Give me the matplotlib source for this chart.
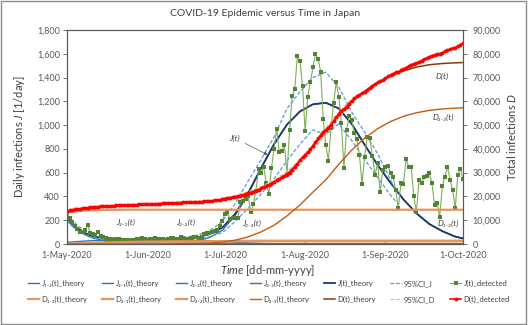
import numpy as np
import pandas as pd
import matplotlib
matplotlib.use("Agg")
import matplotlib.pyplot as plt
from matplotlib.ticker import FuncFormatter
from matplotlib.patches import Rectangle

plt.rcParams['font.family'] = ['Lato', 'DejaVu Sans']
plt.rcParams['mathtext.fontset'] = 'custom'
plt.rcParams['mathtext.rm'] = 'Lato'
plt.rcParams['mathtext.it'] = 'Lato:italic'

# COVID-19 in Japan, 1 May .. 1 Oct 2020
start = pd.Timestamp('2020-05-01')

# daily detected infections J [1/day]
J_detected = [
    272, 215, 185, 150, 125, 105, 100, 120, 160, 90, 80, 75, 105, 70, 55, 50, 45, 40, 35, 38,
    40, 30, 30, 35, 28, 32, 35, 40, 45, 50, 40,
    35, 40, 45, 50, 42, 45, 38, 35, 45, 50, 48, 40, 45, 55, 50, 45, 42, 50, 60, 55,
    50, 55, 80, 90, 95, 105, 110, 120, 150, 190,
    255, 265, 210, 215, 220, 215, 350, 365, 375, 400, 265, 335, 450, 630, 600, 650, 510, 420, 640, 800,
    970, 770, 780, 835, 590, 960, 1245, 1300, 1585, 1540, 1330,
    950, 1240, 1360, 1485, 1600, 1560, 1450, 1050, 835, 700, 975, 1185, 1360, 1240, 1020, 640, 960, 1075, 1045, 935,
    880, 745, 505, 735, 900, 890, 740, 580, 680, 435, 625,
    650, 655, 600, 560, 455, 300, 510, 505, 715, 650, 650, 400, 265, 540, 510, 565, 570, 595, 510, 330,
    345, 230, 485, 565, 650, 540, 455, 300, 580, 635, 545,
]

# total detected infections D
D_detected = [
    13900, 14160, 14380, 14570, 14730, 14870, 15000, 15130, 15280, 15410, 15520, 15620, 15720, 15810, 15890, 15960,
    16025, 16085, 16140, 16195, 16250, 16300, 16345, 16390, 16435, 16480, 16525, 16570, 16620, 16670, 16720,
    16770, 16820, 16870, 16920, 16970, 17020, 17070, 17120, 17170, 17220, 17270, 17320, 17370, 17420, 17470,
    17520, 17570, 17620, 17670, 17720, 17775, 17835, 17915, 18005, 18105, 18215, 18335, 18465, 18610, 18800,
    19030, 19270, 19460, 19655, 19855, 20050, 20365, 20695, 21035, 21395, 21635, 21935, 22340, 22905, 23420,
    23975, 24410, 24770, 25320, 26005, 26795, 27420, 28055, 28735, 29215, 29995, 31005, 32230, 33725, 35180, 36435,
    37330, 38500, 39830, 41285, 42855, 44385, 45805, 47095, 48120, 48980, 50180, 51635, 53305, 54755, 55950,
    56700, 57825, 59085, 60305, 61225, 62090, 62825, 63320, 64045, 64930, 65805, 66605, 67230, 67965, 68435, 69110,
    69810, 70485, 71105, 71680, 72150, 72460, 72985, 73505, 74195, 74820, 75445, 75830, 76085, 76605, 77095,
    77640, 78190, 78765, 79255, 79575, 79905, 80095, 80495, 80960, 81495, 81940, 82315, 82620, 83210, 83855, 84410,
]

# model curves, sampled at days since 1 May
th_day = [0, 2, 4, 7, 10, 15, 20, 25, 30, 35, 40, 45, 50, 55, 60, 65, 70, 75, 80, 85,
          90, 95, 100, 105, 110, 115, 120, 125, 130, 135, 140, 145, 150, 153]
J12_th = [200, 155, 118, 78, 50, 25, 12, 6, 3, 1] + [0] * 24
J21_th = [15, 17, 20, 25, 28, 28, 24, 18, 12, 7, 4, 2, 1] + [0] * 21
J22_th = [0, 0, 0, 0, 0, 1, 2, 5, 10, 17, 24, 28, 30, 28, 22, 15, 9, 5, 2, 1] + [0] * 14
J23_th = [2, 2, 2, 3, 3, 4, 5, 6, 8, 9, 10, 13, 24, 54, 116, 240, 421, 635, 838, 1004,
          1115, 1175, 1188, 1140, 1010, 835, 665, 515, 375, 258, 168, 108, 62, 47]
J_th = [222, 175, 135, 92, 65, 46, 38, 34, 33, 34, 36, 42, 55, 82, 138, 255, 430, 640, 840, 1005,
        1115, 1175, 1188, 1140, 1010, 835, 665, 515, 375, 258, 168, 108, 62, 47]

D12_th = [13200, 13550, 13800, 14050, 14200, 14320, 14380] + [14400] * 27
D21_th = [130, 170, 220, 310, 420, 600, 770, 900, 990, 1050, 1090, 1110, 1125] + [1130] * 21
D22_th = [0, 0, 0, 6, 12, 25, 50, 100, 180, 320, 490, 680, 880, 1050, 1180, 1280, 1340, 1375, 1395] + [1400] * 15
D23_th = [0, 0, 0, 0, 0, 0, 0, 5, 10, 20, 60, 120, 230, 400, 800, 1600, 3000, 5100, 7900, 11800,
          16400, 21800, 27000, 33500, 39500, 44500, 48500, 51500, 53700, 55200, 56200, 56800, 57150, 57300]
D_th = [13500, 13900, 14250, 14700, 15050, 15600, 16000, 16300, 16550, 16800, 17050, 17300, 17600, 18000,
        18700, 19800, 21300, 23300, 26000, 29300, 35000, 41000, 47600, 54200, 59800, 64200, 67800, 70600,
        72800, 74400, 75400, 75900, 76200, 76300]

# 95% confidence bands
ci_day = [0, 2, 4, 7, 10, 15, 20, 25, 30, 35, 40, 45, 50, 55, 60, 65, 70, 75, 80, 85,
          90, 95, 100, 105, 110, 115, 120, 125, 127]
ciJ_hi = [250, 200, 158, 110, 80, 58, 48, 44, 43, 44, 47, 55, 72, 110, 190, 340, 530, 710, 900, 1140,
          1280, 1400, 1445, 1320, 1110, 940, 760, 540, 450]
ciJ_lo = [195, 150, 112, 75, 52, 36, 30, 27, 26, 27, 28, 32, 40, 60, 95, 190, 300, 420, 550, 700,
          840, 960, 920, 1010, 870, 710, 560, 410, 360]
ciD_day = [60, 65, 70, 75, 80, 85, 90, 95, 100, 105, 110]
ciD_hi = [19300, 20400, 22000, 24100, 26800, 30400, 35500, 41800, 48700, 55500, 61000]
ciD_lo = [18600, 19500, 20900, 22800, 25300, 28500, 33600, 39600, 46500, 53400, 59200]


def to_dates(days):
    return start + pd.to_timedelta(np.asarray(days), unit='D')


t_obs = to_dates(np.arange(len(J_detected)))
t_th = to_dates(th_day)
t_ci = to_dates(ci_day)
t_ciD = to_dates(ciD_day)

c_jc = '#2E75B6'
c_j = '#1F3864'
c_cij = '#5B9BD5'
c_dc = '#E8955A'
c_d23 = '#C55A11'
c_d = '#843C0C'
c_cid = '#F4B183'
txt = '#404040'
tick_c = '#595959'

fig = plt.figure(figsize=(5.28, 3.25), dpi=100)
ax = fig.add_axes([67 / 528, 81 / 325, 396 / 528, 214 / 325])
ax2 = ax.twinx()

# primary axis: daily infections
h_j12, = ax.plot(t_th, J12_th, color=c_jc, lw=1.0)
h_j21, = ax.plot(t_th, J21_th, color=c_jc, lw=1.0)
h_j22, = ax.plot(t_th, J22_th, color=c_jc, lw=1.0)
h_j23, = ax.plot(t_th, J23_th, color=c_jc, lw=1.0)
h_j, = ax.plot(t_th, J_th, color=c_j, lw=1.3)
h_cij, = ax.plot(t_ci, ciJ_hi, color=c_cij, lw=0.9, ls=(0, (3, 1.5)))
ax.plot(t_ci, ciJ_lo, color=c_cij, lw=0.9, ls=(0, (3, 1.5)))
h_jdet, = ax.plot(t_obs, J_detected, color='#7FAF5A', lw=0.8, marker='s', ms=2.6,
                  mfc='#548235', mec='#548235', mew=0)

# secondary axis: total infections
h_d12, = ax2.plot(t_th, D12_th, color=c_dc, lw=1.6)
h_d21, = ax2.plot(t_th, D21_th, color=c_dc, lw=1.6)
h_d22, = ax2.plot(t_th, D22_th, color=c_dc, lw=1.6)
h_d23, = ax2.plot(t_th, D23_th, color=c_d23, lw=1.0)
h_d, = ax2.plot(t_th, D_th, color=c_d, lw=1.1)
h_cid, = ax2.plot(t_ciD, ciD_hi, color=c_cid, lw=0.9, ls=(0, (3, 1.5)))
ax2.plot(t_ciD, ciD_lo, color=c_cid, lw=0.9, ls=(0, (3, 1.5)))
h_ddet, = ax2.plot(t_obs, D_detected, color='#FF0000', lw=1.2, marker='o', ms=2.8, mew=0)

ax.set_xlim(start, pd.Timestamp('2020-10-01'))
ax.set_ylim(0, 1800)
ax2.set_ylim(0, 90000)
ax.set_yticks(np.arange(0, 1801, 200))
ax2.set_yticks(np.arange(0, 90001, 10000))
ax.yaxis.set_major_formatter(FuncFormatter(lambda v, p: f'{v:,.0f}'))
ax2.yaxis.set_major_formatter(FuncFormatter(lambda v, p: f'{v:,.0f}'))

months = pd.date_range('2020-05-01', '2020-10-01', freq='MS')
ax.set_xticks(months)
ax.set_xticklabels([f"{m.day}-{m.strftime('%b-%Y')}" for m in months])

ax.tick_params(axis='y', direction='out', length=3, width=0.6, color=tick_c,
               labelcolor=tick_c, labelsize=6.5, pad=2)
ax.tick_params(axis='x', direction='in', length=3, width=0.6, color=tick_c,
               labelcolor=tick_c, labelsize=6.5, pad=5)
ax2.tick_params(axis='y', direction='out', length=3, width=0.6, color=tick_c,
                labelcolor=tick_c, labelsize=6.5, pad=4)
for a in (ax, ax2):
    for s in a.spines.values():
        s.set_color(tick_c)
        s.set_linewidth(0.8)

# curve labels
lab = dict(fontsize=6, color=txt, style='italic', ha='center', va='center')
ax.annotate('J(t)', xy=(0.513, 0.411), xycoords='axes fraction', xytext=(0.423, 0.495),
            textcoords='axes fraction', arrowprops=dict(arrowstyle='-|>', color='#595959',
                                                        lw=0.5, mutation_scale=5), **lab)
ax.text(0.149, 0.099, 'J₂₋₁(t)', transform=ax.transAxes, **lab)
ax.text(0.300, 0.099, 'J₂₋₂(t)', transform=ax.transAxes, **lab)
ax.text(0.465, 0.097, 'J₂₋₃(t)', transform=ax.transAxes, **lab)
ax.text(0.947, 0.782, 'D(t)', transform=ax.transAxes, **lab)
ax.text(0.949, 0.592, 'D₂₋₃(t)', transform=ax.transAxes, **lab)
ax.text(0.962, 0.097, 'D₁₋₂(t)', transform=ax.transAxes, **lab)

fig.text(0.502, 0.958, 'COVID-19 Epidemic versus Time in Japan', ha='center', va='center',
         fontsize=7.5, color=txt)
fig.text(20 / 528, 1 - 137 / 325, r'Daily infections $\mathit{J}$ [1/day]', rotation=90,
         ha='center', va='center', fontsize=8, color=txt)
fig.text(512 / 528, 1 - 137 / 325, r'Total infections $\mathit{D}$', rotation=90,
         ha='center', va='center', fontsize=8, color=txt)
fig.text(268 / 528, 1 - 270 / 325, r'$\mathit{Time}$ [dd-mm-yyyy]', ha='center', va='center',
         fontsize=8, color=txt)

handles = [h_j12, h_d12, h_j21, h_d21, h_j22, h_d22, h_j23, h_d23,
           h_j, h_d, h_cij, h_cid, h_jdet, h_ddet]
labels = ['J₁₋₂(t)_theory', 'D₁₋₂(t)_theory', 'J₂₋₁(t)_theory', 'D₂₋₁(t)_theory',
          'J₂₋₂(t)_theory', 'D₂₋₂(t)_theory', 'J₂₋₃(t)_theory', 'D₂₋₃(t)_theory',
          'J(t)_theory', 'D(t)_theory', '95%CI_J', '95%CI_D', 'J(t)_detected', 'D(t)_detected']
fig.legend(handles, labels, ncol=7, loc='upper left', mode='expand',
           bbox_to_anchor=(28 / 528, 1 - 283 / 325, 482 / 528, 0.01), frameon=False,
           fontsize=5.5, handlelength=1.5, handletextpad=0.3, labelspacing=1.2,
           borderaxespad=0, borderpad=0, labelcolor=txt)

fig.add_artist(Rectangle((0.002, 0.003), 0.995, 0.994, transform=fig.transFigure,
                         fill=False, edgecolor='#8c8c8c', lw=1.0))

fig.savefig('out.png', dpi=100)
